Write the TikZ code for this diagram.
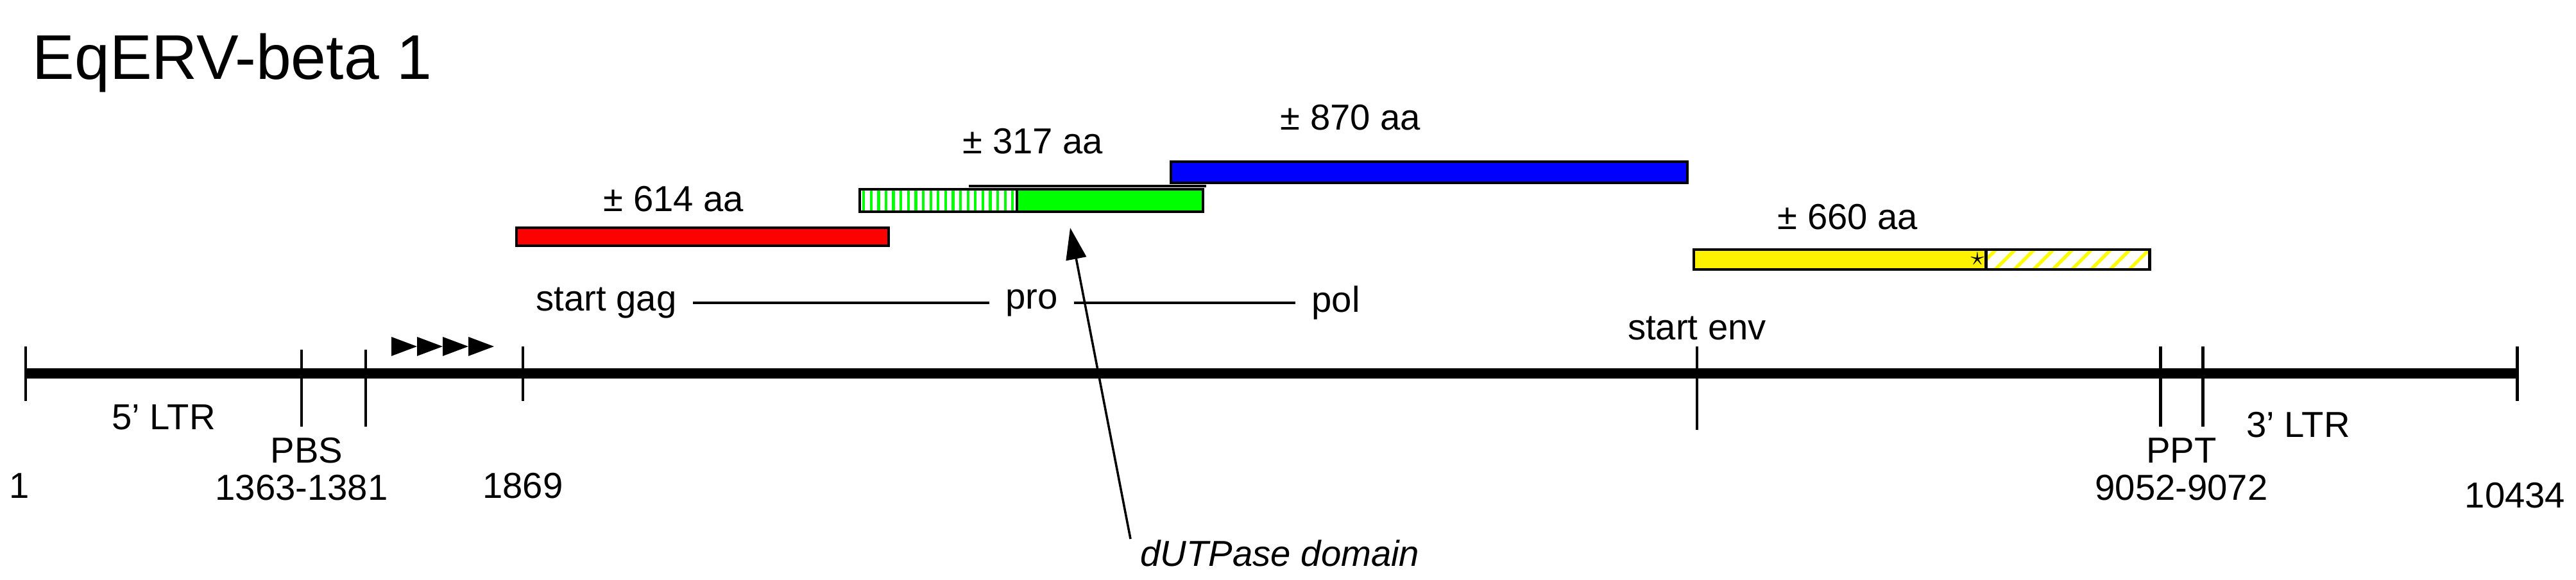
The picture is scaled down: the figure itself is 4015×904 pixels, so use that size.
\documentclass[tikz,border=0pt]{standalone}
\usepackage{fontspec}
\setmainfont{Liberation Sans}
\usetikzlibrary{patterns.meta,arrows.meta}
\begin{document}
\begin{tikzpicture}[x=0.01cm,y=-0.01cm,
  lbl/.style={font=\fontsize{16}{18}\selectfont,inner sep=0},
  bar/.style={draw=black,line width=1.4pt},
  tick/.style={line width=1.4pt}]
\useasboundingbox (0,0) rectangle (4015,904);
\node[inner sep=0,anchor=west,font=\fontsize{28}{30}\selectfont] (title) at (50,98) {EqERV-beta 1};
% main line
\coordinate (L) at (40,582); \coordinate (R) at (3925,582);
\draw[line width=4.5pt] (L) -- (R);
\foreach \x/\a/\b in {40/540/625,470/545/665,570/545/665,815/540/625,2645/540/670,3367/540/665,3433/540/665,3923/540/625}
  \draw[tick] (\x,\a) -- (\x,\b);
\foreach \x in {610,650,690,730}
  \fill (\x,525) -- (\x+40,540) -- (\x,555) -- cycle;
% labels
\node[lbl] (n1) at (30,757) {1};
\node[lbl] (l5) at (255,650) {5' LTR};
\node[lbl] (pbs) at (478,702) {PBS};
\node[lbl] (pbsn) at (470,760) {1363-1381};
\node[lbl] (n1869) at (815,757) {1869};
\node[lbl] (senv) at (2645,512) {start env};
\node[lbl] (ppt) at (3400,702) {PPT};
\node[lbl] (l3) at (3582,662) {3' LTR};
\node[lbl] (pptn) at (3400,760) {9052-9072};
\node[lbl] (nend) at (3920,772) {10434};
% bars
\draw[line width=1.4pt] (1510,290) -- (1880,290);
\draw[bar,fill=red] (805,355) rectangle (1385,383);
\draw[bar,pattern={Lines[angle=90,distance=3.3pt,line width=1.2pt]},pattern color=green] (1340,295) rectangle (1585,330);
\draw[bar,fill=green] (1585,295) rectangle (1875,330);
\draw[bar,fill=blue] (1825,252) rectangle (2630,285);
\draw[bar,fill=yellow] (2640,389) rectangle (3095,420);
\draw[bar,pattern={Lines[angle=45,distance=6pt,line width=1.5pt]},pattern color=yellow] (3095,389) rectangle (3350,420);
\node[inner sep=0,font=\fontsize{12}{12}\selectfont] (star) at (3082,404) {$\star$};
\node[lbl] (a614) at (1050,310) {± 614 aa};
\node[lbl] (a317) at (1610,220) {± 317 aa};
\node[lbl] (a870) at (2105,183) {± 870 aa};
\node[lbl] (a660) at (2880,338) {± 660 aa};
% gag pro pol
\node[lbl] (gag) at (945,472) {start gag};
\node[lbl] (pro) at (1608,472) {pro};
\node[lbl] (pol) at (2082,472) {pol};
\draw[line width=1pt] ([xshift=7pt]gag.east) -- ([xshift=-7pt]pro.west);
\draw[line width=1pt] ([xshift=7pt]pro.east) -- ([xshift=-7pt]pol.west);
% dUTPase
\node[lbl,font=\fontsize{16}{18}\selectfont\itshape] (dut) at (1995,862) {dUTPase domain};
\coordinate (tip) at (1668,355);
\draw[line width=1pt,-{Triangle[length=14pt,width=9pt]}] (1762,840) -- (tip);
\end{tikzpicture}
\end{document}
